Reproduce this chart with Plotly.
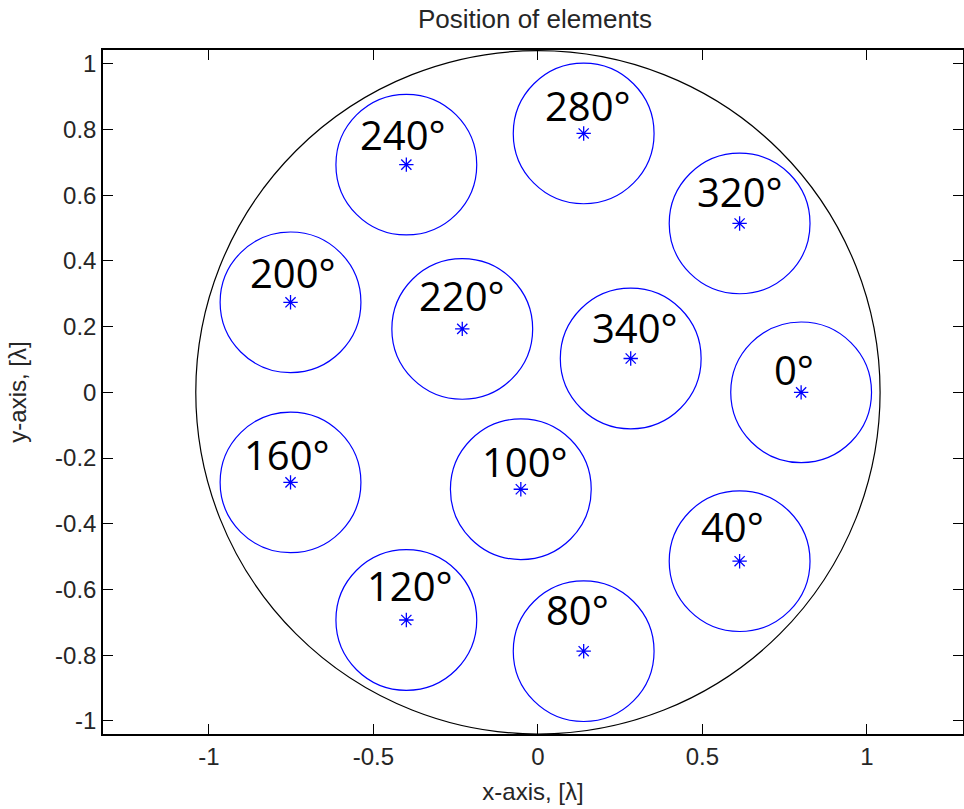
import plotly.graph_objects as go

# ---- data ----
labels = ["0°", "40°", "80°", "100°", "120°", "160°", "200°", "220°", "240°", "280°", "320°", "340°"]
elem_x = [0.800, 0.613, 0.139, -0.052, -0.400, -0.752, -0.752, -0.230, -0.400, 0.139, 0.613, 0.282]
elem_y = [0.000, -0.514, -0.788, -0.295, -0.693, -0.274, 0.274, 0.193, 0.693, 0.788, 0.514, 0.103]
elem_radius = 0.214
aperture_radius = 1.04

x_ticks = [-1, -0.5, 0, 0.5, 1]
x_ticklabels = ["-1", "-0.5", "0", "0.5", "1"]
y_ticks = [-1, -0.8, -0.6, -0.4, -0.2, 0, 0.2, 0.4, 0.6, 0.8, 1]
y_ticklabels = ["-1", "-0.8", "-0.6", "-0.4", "-0.2", "0", "0.2", "0.4", "0.6", "0.8", "1"]

# label pixel offsets (style): horizontal shift and gap above marker
label_dx = [-7, -7, -6, 4, 4, -4, 2, 0, -3, 4, 0, 4]
label_gap = [8, 20, 27, 13, 20, 13, 15, 18, 15, 13, 17, 16]

BLUE = "#0000ff"
TXT = "#262626"
fig = go.Figure()

shapes = [dict(type="circle", xref="x", yref="y",
               x0=-aperture_radius, y0=-aperture_radius, x1=aperture_radius, y1=aperture_radius,
               line=dict(color="black", width=1.2))]
for cx, cy in zip(elem_x, elem_y):
    shapes.append(dict(type="circle", xref="x", yref="y",
                       x0=cx - elem_radius, y0=cy - elem_radius, x1=cx + elem_radius, y1=cy + elem_radius,
                       line=dict(color=BLUE, width=1.2)))

fig.add_trace(go.Scatter(x=elem_x, y=elem_y, mode="markers",
                         marker=dict(symbol="asterisk-open", size=12, color=BLUE,
                                     line=dict(color=BLUE, width=1.3)),
                         showlegend=False, hoverinfo="skip"))

annotations = []
for lab, cx, cy, dx, gap in zip(labels, elem_x, elem_y, label_dx, label_gap):
    annotations.append(dict(x=cx, y=cy, xref="x", yref="y", text=lab, showarrow=False,
                            xanchor="center", yanchor="middle", xshift=dx, yshift=gap + 15,
                            font=dict(family="Open Sans", size=40, color="black")))

fig.update_layout(
    width=964, height=809,
    margin=dict(l=103, r=1, t=50, b=75, autoexpand=False),
    paper_bgcolor="white", plot_bgcolor="white",
    showlegend=False,
    shapes=shapes,
    annotations=annotations,
    title=dict(text="Position of elements", x=0.555, xanchor="center", y=0.977, yanchor="middle",
               automargin=False,
               font=dict(family="Liberation Sans", size=26, color=TXT)),
    font=dict(family="Liberation Sans", size=24, color=TXT),
)
axis_common = dict(showgrid=False, zeroline=False, showline=True, linecolor="black", linewidth=1.5,
                   mirror="ticks", ticks="inside", ticklen=10, tickwidth=1, tickcolor="black",
                   automargin=False,
                   tickfont=dict(family="Liberation Sans", size=24, color=TXT))
fig.update_xaxes(range=[-1.322, 1.292], tickvals=x_ticks, ticktext=x_ticklabels,
                 title=dict(text="x-axis, [λ]", standoff=15,
                            font=dict(family="Liberation Sans", size=24, color=TXT)), **axis_common)
fig.update_yaxes(range=[-1.04, 1.042], tickvals=y_ticks, ticktext=y_ticklabels,
                 title=dict(text="y-axis, [λ]", standoff=22,
                            font=dict(family="Liberation Sans", size=24, color=TXT)), **axis_common)

fig.write_html("out.html", config={"displayModeBar": False},
               post_script="document.body.style.margin='0';document.body.style.overflow='hidden';")
